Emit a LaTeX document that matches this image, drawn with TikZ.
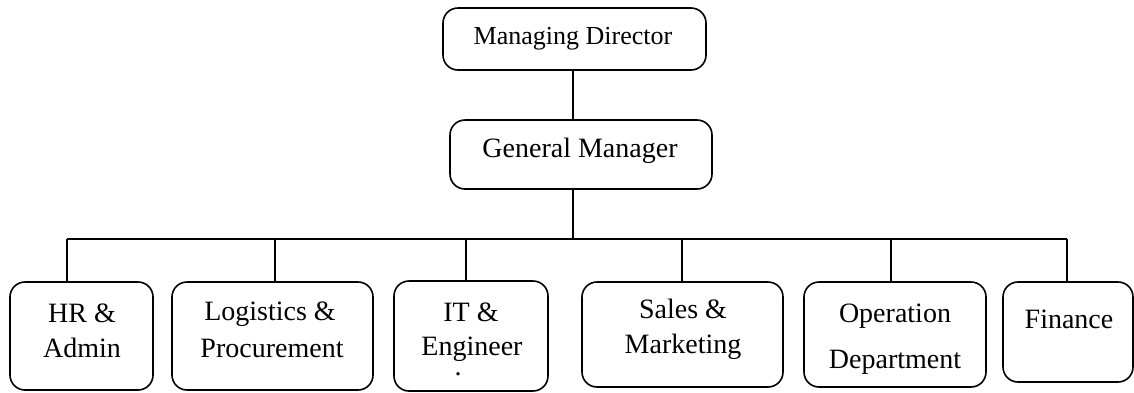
\documentclass[tikz,border=0pt]{standalone}
\usepackage{fontspec}
\setmainfont{Liberation Serif}
\begin{document}
\begin{tikzpicture}[x=0.5pt,y=-0.5pt,
  box/.style={draw=black, line width=0.8pt, rounded corners=7.5pt, inner sep=0pt},
  lbl/.style={inner sep=0pt, anchor=base, font=\fontsize{14}{16}\selectfont},
  lblsm/.style={inner sep=0pt, anchor=base, font=\fontsize{13}{15}\selectfont},
  conn/.style={draw=black, line width=0.8pt}]
\useasboundingbox (0,0) rectangle (1134,392);
\clip (0,0) rectangle (1134,392);
% boxes
\node[box, minimum width=131.5pt, minimum height=31pt] (md) at (574.5,39) {};
\node[box, minimum width=131pt, minimum height=34.5pt] (gm) at (581,154.5) {};
\node[box, minimum width=71.5pt, minimum height=54pt] (hr) at (81.5,336) {};
\node[box, minimum width=100.5pt, minimum height=54pt] (log) at (272.5,336) {};
\node[box, minimum width=77pt, minimum height=55pt] (it) at (471,336) {};
\node[box, minimum width=100.5pt, minimum height=52.5pt] (sales) at (682.5,334.5) {};
\node[box, minimum width=91pt, minimum height=52.5pt] (op) at (895,334.5) {};
\node[box, minimum width=65pt, minimum height=50pt] (fin) at (1068,332) {};
% labels
\node[lblsm] (tmd) at (573,44) {Managing Director};
\node[lbl] (tgm) at (580,157) {General Manager};
\node[lbl] (thr1) at (82,322) {HR \&};
\node[lbl] (thr2) at (82,357) {Admin};
\node[lbl] (tlog1) at (270,320) {Logistics \&};
\node[lbl] (tlog2) at (272,357) {Procurement};
\node[lbl] (tit1) at (471,321) {IT \&};
\node[lbl] (tit2) at (472,355) {Engineer};
\node[lbl] (tit3) at (458,375) {.};
\node[lbl] (tsa1) at (683,318) {Sales \&};
\node[lbl] (tsa2) at (683,353) {Marketing};
\node[lbl] (top1) at (895,322) {Operation};
\node[lbl] (top2) at (895,368) {Department};
\node[lbl] (tfin) at (1069,328) {Finance};
% bus coordinates
\coordinate (gmdrop) at (573,239);
\coordinate (bhr) at (67,239);
\coordinate (blog) at (275,239);
\coordinate (bit) at (466,239);
\coordinate (bsa) at (682,239);
\coordinate (bop) at (891,239);
\coordinate (bfin) at (1067,239);
% connectors
\draw[conn] (gmdrop |- md.south) -- (gmdrop |- gm.north);
\draw[conn] (gmdrop |- gm.south) -- (gmdrop);
\draw[conn] (bhr) -- (bfin);
\draw[conn] (bhr) -- (bhr |- hr.north);
\draw[conn] (blog) -- (blog |- log.north);
\draw[conn] (bit) -- (bit |- it.north);
\draw[conn] (bsa) -- (bsa |- sales.north);
\draw[conn] (bop) -- (bop |- op.north);
\draw[conn] (bfin) -- (bfin |- fin.north);
\end{tikzpicture}
\end{document}
